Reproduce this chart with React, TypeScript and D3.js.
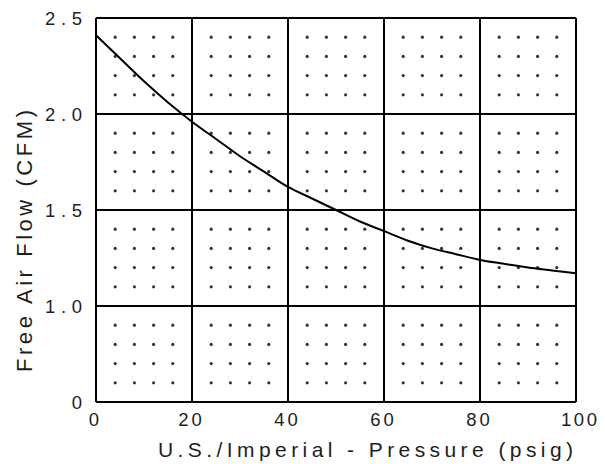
import React from "react";
import * as d3 from "d3";

const pressure = [0, 5, 10, 15, 20, 25, 30, 35, 40, 45, 50, 55, 60, 65, 70, 75, 80, 85, 90, 95, 100];
const flow = [2.41, 2.29, 2.17, 2.06, 1.96, 1.87, 1.78, 1.7, 1.62, 1.56, 1.5, 1.44, 1.39, 1.34, 1.3, 1.27, 1.24, 1.22, 1.2, 1.185, 1.17];
const xTicks = [0, 20, 40, 60, 80, 100];
const yTicks = [0, 1.0, 1.5, 2.0, 2.5];
const yTickLabels = ["0", "1.0", "1.5", "2.0", "2.5"];
const xTitle = "U.S./Imperial - Pressure (psig)";
const yTitle = "Free Air Flow (CFM)";

const W = 605, H = 464;
const L = 96, R = 576, T = 18, B = 402;
const FONT = "'Liberation Sans', Arial, sans-serif";
const TXT = "#1e1e1e";

function tickLen(s: string, per: number): number | undefined {
  if (s.length <= 1) return undefined;
  return s.length * per - (per - 11);
}

export default function App() {
  const x = d3.scaleLinear().domain([0, 100]).range([L, R]);
  const y = d3.scaleLinear().domain([0, 1.0, 2.5]).range([B, B - 96, T]);

  const line = d3
    .line<number>()
    .x((_, i) => x(pressure[i]))
    .y((d) => y(d))
    .curve(d3.curveMonotoneX);

  const dots: { cx: number; cy: number }[] = [];
  for (let i = 0; i < xTicks.length - 1; i++) {
    for (let j = 0; j < yTicks.length - 1; j++) {
      const x0 = x(xTicks[i]), x1 = x(xTicks[i + 1]);
      const y0 = y(yTicks[j + 1]), y1 = y(yTicks[j]);
      for (let a = 1; a <= 4; a++) {
        for (let b = 1; b <= 4; b++) {
          dots.push({ cx: x0 + ((x1 - x0) * a) / 5, cy: y0 + ((y1 - y0) * b) / 5 });
        }
      }
    }
  }

  return (
    <svg width={W} height={H} style={{ position: "absolute", left: 0, top: 0, background: "#fff" }}>
      <rect x={0} y={0} width={W} height={H} fill="#fff" />
      {dots.map((d, i) => (
        <circle key={i} cx={d.cx} cy={d.cy} r={1.6} fill="#333" />
      ))}
      {xTicks.map((t) => (
        <line key={"vx" + t} x1={x(t)} x2={x(t)} y1={T} y2={B} stroke="#000" strokeWidth={2} />
      ))}
      {yTicks.map((t) => (
        <line key={"hy" + t} x1={L} x2={R} y1={y(t)} y2={y(t)} stroke="#000" strokeWidth={2} />
      ))}
      <path d={line(flow) || ""} fill="none" stroke="#000" strokeWidth={2} />
      {xTicks.map((t) => {
        const s = String(t);
        const tl = tickLen(s, 12.5);
        return (
          <text
            key={"tx" + t}
            x={x(t) + (s.length === 3 ? 3 : -2)}
            y={426}
            textAnchor="middle"
            fontFamily={FONT}
            fontSize={18.5}
            fill={TXT}
            textLength={tl}
            lengthAdjust="spacing"
          >
            {s}
          </text>
        );
      })}
      {yTicks.map((t, i) => {
        const s = yTickLabels[i];
        return (
          <text
            key={"ty" + t}
            x={82}
            y={y(t) + 7}
            textAnchor="end"
            fontFamily={FONT}
            fontSize={18.5}
            fill={TXT}
            textLength={s.length > 1 ? 37 : undefined}
            lengthAdjust="spacing"
          >
            {s}
          </text>
        );
      })}
      <text
        x={365.5}
        y={457}
        textAnchor="middle"
        fontFamily={FONT}
        fontSize={21}
        fill={TXT}
        textLength={415}
        lengthAdjust="spacing"
      >
        {xTitle}
      </text>
      <text
        transform={`translate(32, 241) rotate(-90)`}
        textAnchor="middle"
        fontFamily={FONT}
        fontSize={22}
        fill={TXT}
        textLength={262}
        lengthAdjust="spacing"
      >
        {yTitle}
      </text>
    </svg>
  );
}
